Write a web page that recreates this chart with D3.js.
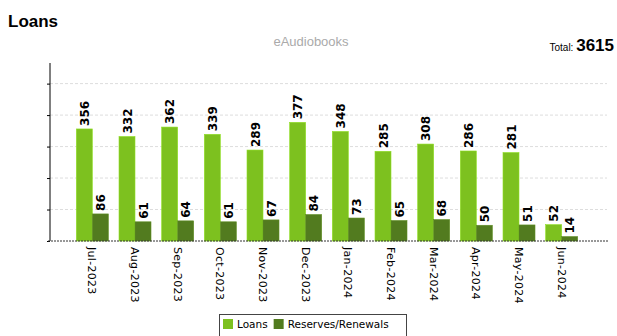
<!DOCTYPE html>
<html>
<head>
<meta charset="utf-8">
<script src="https://cdn.jsdelivr.net/npm/d3@7"></script>
<style>
  body { margin: 0; background: #fff; }
  svg { display: block; }
</style>
</head>
<body>
<svg width="617" height="336"></svg>
<script>
const width = 617;
const height = 336;

const months = ["Jul-2023", "Aug-2023", "Sep-2023", "Oct-2023", "Nov-2023", "Dec-2023",
  "Jan-2024", "Feb-2024", "Mar-2024", "Apr-2024", "May-2024", "Jun-2024"];
const loans = [356, 332, 362, 339, 289, 377, 348, 285, 308, 286, 281, 52];
const reserves = [86, 61, 64, 61, 67, 84, 73, 65, 68, 50, 51, 14];
const seriesNames = ["Loans", "Reserves/Renewals"];
const seriesColors = ["#7dc11f", "#527b1f"];
const yTicks = [0, 100, 200, 300, 400, 500];
const total = 3615;

const svg = d3.select("svg");

// scales
const x = d3.scaleBand()
  .domain(months)
  .range([71, 583])
  .paddingInner(0.25)
  .paddingOuter(0.125);

const xs = d3.scaleBand()
  .domain(seriesNames)
  .range([0, x.bandwidth()]);

const y = d3.scaleLinear()
  .domain([0, d3.max(loans) * 1.5])
  .range([241, 63]);

// titles
svg.append("text")
  .attr("x", 8).attr("y", 27)
  .attr("font-family", "Liberation Sans, Arial, sans-serif")
  .attr("font-weight", "bold")
  .attr("font-size", 17)
  .text("Loans");

svg.append("text")
  .attr("x", 311).attr("y", 46)
  .attr("text-anchor", "middle")
  .attr("font-family", "Liberation Sans, Arial, sans-serif")
  .attr("font-size", 13)
  .attr("fill", "#aaa")
  .text("eAudiobooks");

const tot = svg.append("text")
  .attr("x", 614).attr("y", 51)
  .attr("text-anchor", "end")
  .attr("font-family", "Liberation Sans, Arial, sans-serif");
tot.append("tspan").attr("font-size", 10).text("Total: ");
tot.append("tspan").attr("font-size", 17).attr("font-weight", "bold").text(total);

// grid
svg.append("g")
  .selectAll("line")
  .data(yTicks.slice(1))
  .enter().append("line")
    .attr("x1", 50).attr("x2", 607)
    .attr("y1", d => y(d)).attr("y2", d => y(d))
    .attr("stroke", "#ddd")
    .attr("stroke-dasharray", "3,2");

// y axis (no labels)
const yAxis = svg.append("g")
  .attr("transform", "translate(50,0)")
  .call(d3.axisLeft(y).tickValues(yTicks).tickSize(3).tickFormat(""));
yAxis.select(".domain").attr("d", "M0," + 63 + "V" + 241).attr("stroke", "#000");
yAxis.selectAll(".tick line").attr("stroke", "#000");

// bars
const groups = svg.append("g")
  .selectAll("g")
  .data(months)
  .enter().append("g")
    .attr("transform", d => "translate(" + x(d) + ",0)");

const barData = (m, i) => [
  { series: seriesNames[0], value: loans[i], color: seriesColors[0] },
  { series: seriesNames[1], value: reserves[i], color: seriesColors[1] }
];

groups.selectAll("rect")
  .data(barData)
  .enter().append("rect")
    .attr("x", d => xs(d.series))
    .attr("y", d => y(d.value))
    .attr("width", xs.bandwidth())
    .attr("height", d => y(0) - y(d.value))
    .attr("fill", d => d.color)
    .attr("stroke", d => d3.color(d.color).brighter(0.4))
    .attr("stroke-width", 0.6);

groups.selectAll("text")
  .data(barData)
  .enter().append("text")
    .attr("transform", d => "translate(" + (xs(d.series) + xs.bandwidth() / 2 + 4.5) + "," + (y(d.value) - 3) + ") rotate(-90)")
    .attr("font-family", "DejaVu Sans, Verdana, sans-serif")
    .attr("font-weight", "bold")
    .attr("font-size", 12)
    .text(d => d.value);

// baseline
svg.append("line")
  .attr("x1", 48).attr("x2", 608)
  .attr("y1", y(0)).attr("y2", y(0))
  .attr("stroke", "#333")
  .attr("stroke-dasharray", "2,1");

// x labels
svg.append("g")
  .selectAll("text")
  .data(months)
  .enter().append("text")
    .attr("transform", d => "translate(" + (x(d) + x.bandwidth() / 2 - 4) + ",247) rotate(90)")
    .attr("font-family", "DejaVu Sans, Verdana, sans-serif")
    .attr("font-size", 11)
    .attr("letter-spacing", 0.3)
    .text(d => d);

// legend
const legend = svg.append("g");
legend.append("rect")
  .attr("x", 219.5).attr("y", 314.5)
  .attr("width", 187).attr("height", 30)
  .attr("fill", "#fff")
  .attr("stroke", "#444");

let lx = 223;
seriesNames.forEach((name, i) => {
  legend.append("rect")
    .attr("x", lx).attr("y", 319)
    .attr("width", 10).attr("height", 10)
    .attr("fill", seriesColors[i]);
  const t = legend.append("text")
    .attr("x", lx + 14).attr("y", 328)
    .attr("font-family", "DejaVu Sans, Verdana, sans-serif")
    .attr("font-size", 10.5)
    .text(name);
  lx += 14 + t.node().getComputedTextLength() + 6;
});
</script>
</body>
</html>
